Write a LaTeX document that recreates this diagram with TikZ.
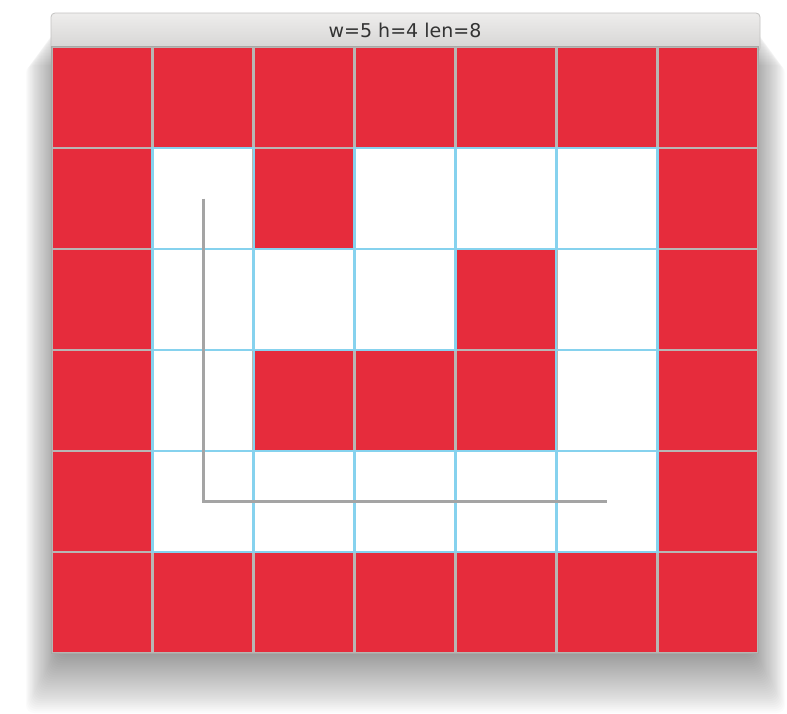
\documentclass[tikz,border=0pt]{standalone}
\usepackage{fontspec}
\newfontfamily\barfont{DejaVu Sans}
\usepackage{tikz}
\usetikzlibrary{positioning}
\definecolor{cellred}{HTML}{E62C3C}
\definecolor{gridgray}{HTML}{B8B6B4}
\definecolor{gridblue}{HTML}{86D2EE}
\definecolor{pathgray}{HTML}{A4A4A4}
\definecolor{barlight}{HTML}{EEEDEC}
\definecolor{bardark}{HTML}{D4D3D2}
\definecolor{framegray}{HTML}{A9A8A6}

\begin{document}
\begin{tikzpicture}[
  x=1pt,
  y=-1pt,
  cell/.style={
    rectangle,
    inner sep=0pt,
    minimum width=100.86pt,
    minimum height=101pt
  },
  cellR/.style={cell, fill=cellred},
  cellW/.style={cell, fill=white},
  edgeR/.style={draw=none},
  edgeW/.style={draw=gridblue, line width=2.4pt},
  gridline/.style={draw=gridgray, line width=2.4pt},
  route/.style={draw=pathgray, line width=2.6pt},
  titlebar/.style={
    rounded corners=4pt,
    top color=barlight,
    bottom color=bardark,
    draw=framegray!70,
    line width=0.8pt
  }
]
\useasboundingbox (0,0) rectangle (787,713);

% soft shadow under the window
\foreach \i in {1,...,30}
  \fill[black, opacity=0.015, rounded corners=8pt]
    (59-\i*1.1, 20+\i*1.5) rectangle (752+\i*1.1, 653+\i*2);

% window title bar
\path[titlebar] (51,13) rectangle (760,52);
\node[font=\barfont\fontsize{19}{22}\selectfont, text=black!80] (caption) at (405,30) {w=5 h=4 len=8};

% cells, row by row
\foreach \pat [count=\r from 0] in {
    {R,R,R,R,R,R,R},
    {R,W,R,W,W,W,R},
    {R,W,W,W,R,W,R},
    {R,W,R,R,R,W,R},
    {R,W,W,W,W,W,R},
    {R,R,R,R,R,R,R}}
  \foreach \k [count=\c from 0] in \pat
    \node[cell\k] (c\r\c) at ({52+100.86*(\c+0.5)}, {47+101*(\r+0.5)}) {};

% cell borders: gray everywhere, blue round the free cells
\foreach \pat [count=\r from 0] in {
    {R,R,R,R,R,R,R},
    {R,W,R,W,W,W,R},
    {R,W,W,W,R,W,R},
    {R,W,R,R,R,W,R},
    {R,W,W,W,W,W,R},
    {R,R,R,R,R,R,R}}
  \foreach \k [count=\c from 0] in \pat
    \path[gridline] (c\r\c.north west) rectangle (c\r\c.south east);
\foreach \pat [count=\r from 0] in {
    {R,R,R,R,R,R,R},
    {R,W,R,W,W,W,R},
    {R,W,W,W,R,W,R},
    {R,W,R,R,R,W,R},
    {R,W,W,W,W,W,R},
    {R,R,R,R,R,R,R}}
  \foreach \k [count=\c from 0] in \pat
    \path[edge\k] (c\r\c.north west) rectangle (c\r\c.south east);

% window frame
\draw[framegray, line width=1pt] (c00.north west) rectangle (c56.south east);

% route through the maze
\draw[route] (c11.center) -- (c41.center) -- (c45.center);

\end{tikzpicture}
\end{document}
